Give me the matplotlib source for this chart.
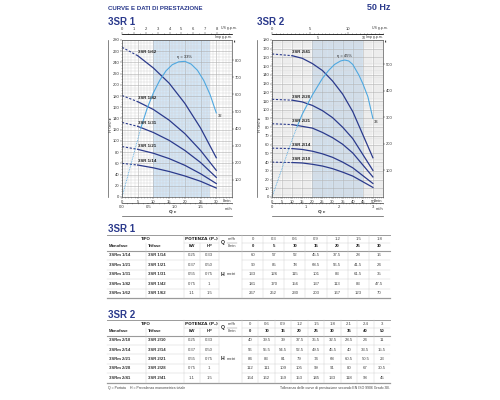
import matplotlib
matplotlib.use('Agg')
import matplotlib.pyplot as plt
import matplotlib.ticker as mt

plt.rcParams['font.family'] = ['Liberation Sans Narrow', 'Liberation Sans', 'DejaVu Sans']

NAVY = '#2b3a8c'
LBLUE = '#4fa8e0'
SHADE = '#d3e6f6'
TXT = '#333333'

# ---------------- 3SR 1 ----------------
q1_lmin = [0, 5, 10, 15, 20, 25, 30]
q1_m3h = ['0', '0.3', '0.6', '0.9', '1.2', '1.5', '1.8']
models1 = ['1/14', '1/21', '1/31', '1/42', '1/62']
kw1 = ['0.25', '0.37', '0.55', '0.75', '1.1']
hp1 = ['0.33', '0.50', '0.75', '1', '1.5']
h1 = [
    [60, 57, 52, 45.5, 37.5, 28, 16],
    [90, 85, 78, 68.5, 56.5, 41.5, 24],
    [133, 126, 115, 101, 83, 61.5, 35],
    [181, 170, 156, 137, 113, 83, 47.5],
    [267, 252, 230, 203, 167, 123, 70],
]
eff1_q = [0, 2, 4, 6, 8, 10, 12, 14, 16, 18, 20, 22, 24, 26, 28, 30]
eff1_h = [0, 41, 82, 123, 158, 186, 208, 225, 236, 241, 242, 237, 226, 208, 183, 150]
imp1_labels = [''] * 8

# ---------------- 3SR 2 ----------------
q2_lmin = [0, 10, 15, 20, 25, 30, 35, 40, 50]
q2_m3h = ['0', '0.6', '0.9', '1.2', '1.5', '1.8', '2.1', '2.4', '3']
models2 = ['2/10', '2/14', '2/21', '2/28', '2/41']
kw2 = ['0.25', '0.37', '0.55', '0.75', '1.1']
hp2 = ['0.33', '0.50', '0.75', '1', '1.5']
h2 = [
    [40, 39.5, 39, 37.5, 35.5, 32.5, 28.5, 24, 11],
    [56, 55.5, 54.5, 52.5, 49.5, 45.5, 40, 33.5, 15.5],
    [84, 83, 81, 79, 74, 68, 60.5, 50.5, 23],
    [112, 111, 109, 105, 99, 91, 80, 67, 30.5],
    [164, 162, 159, 153, 145, 133, 118, 98, 45],
]
eff2_q = [0, 5, 10, 12.5, 15, 20, 25, 28, 31, 34, 36, 38, 40, 43, 45, 47.5, 50]
eff2_h = [0, 33, 66, 81, 95, 117, 136, 145, 152, 156, 157, 156, 152, 140, 130, 115, 90]
imp2_labels = ['', '', '', '', '', '5', '', '', '', '', '10', '']

fig = plt.figure(figsize=(5, 4), dpi=100)
W, H = 500, 400


def rect(l, t, r, b):
    return [l / W, 1 - b / H, (r - l) / W, (b - t) / H]


def chart(box, q, heads, models, dash_i, xmax, xlab_max, ymax, ystep, xminor, yminor,
          band, eq, eh, eff_dot_i, eff_txt, eff_end, ft_ticks, us_ticks, imp_ticks,
          imp_labels, m3_ticks):
    ax = fig.add_axes(rect(*box))
    ax.set_xlim(0, xmax)
    ax.set_ylim(0, ymax)
    ax.set_axisbelow(True)
    ax.axvspan(band[0], band[1], color=SHADE, lw=0, zorder=0.1)
    ax.xaxis.set_major_locator(mt.FixedLocator(range(0, xlab_max + 1, 5)))
    ax.xaxis.set_minor_locator(mt.MultipleLocator(xminor))
    ax.yaxis.set_major_locator(mt.MultipleLocator(ystep))
    ax.yaxis.set_minor_locator(mt.MultipleLocator(yminor))
    ax.grid(which='minor', color='#d2d2d2', lw=0.3)
    ax.grid(which='major', color='#b0b0b0', lw=0.4)
    ax.tick_params(which='both', labelsize=3, length=1.2, width=0.3, pad=0.8, colors=TXT)
    ax.tick_params(which='minor', length=0.6)
    for s in ax.spines.values():
        s.set_linewidth(0.5)
        s.set_color('#555555')
    ax.text(xmax - 0.3, -0.012 * ymax, 'l/min', fontsize=3, color=TXT, ha='right', va='top',
            transform=ax.transData)

    # head curves
    for m, hv in zip(models, heads):
        ax.plot(q[:dash_i + 1], hv[:dash_i + 1], color=NAVY, lw=0.8, ls=(0, (2, 1.5)))
        ax.plot(q[dash_i:], hv[dash_i:], color=NAVY, lw=0.9)
        ax.annotate('3SR ' + m, (q[dash_i], hv[dash_i]), xytext=(0, 1.2),
                    textcoords='offset points', fontsize=3.2, fontweight='bold',
                    color='#222222', ha='left', va='bottom')

    # efficiency curve
    ax.plot(eq[:eff_dot_i + 1], eh[:eff_dot_i + 1], color=LBLUE, lw=0.6, ls=(0, (1, 1)))
    ax.plot(eq[eff_dot_i:], eh[eff_dot_i:], color=LBLUE, lw=0.8)
    pk = eh.index(max(eh))
    ax.annotate(eff_txt, (eq[pk], eh[pk]), xytext=(0, 1.5), textcoords='offset points',
                fontsize=3, color='#222222', ha='center', va='bottom')
    ax.annotate(eff_end, (eq[-1], eh[-1]), xytext=(1, -1), textcoords='offset points',
                fontsize=3, color='#222222', ha='left', va='top')

    # feet axis
    tw = ax.twinx()
    tw.set_ylim(0, ymax / 0.3048)
    tw.set_yticks(ft_ticks)
    tw.tick_params(labelsize=3, length=1.2, width=0.3, pad=0.8, colors=TXT)
    tw.text(1.02, 0.99, 'ft', transform=ax.transAxes, fontsize=3, color=TXT, va='center')
    for s in tw.spines.values():
        s.set_visible(False)

    # gpm scales on top
    us = ax.secondary_xaxis(1.04, functions=(lambda x: x / 3.785, lambda g: g * 3.785))
    us.set_xticks(us_ticks)
    us.xaxis.set_minor_locator(mt.MultipleLocator(0.5))
    us.tick_params(which='both', labelsize=3, length=1.2, width=0.3, pad=0.5, colors=TXT)
    us.tick_params(which='minor', length=0.7)
    us.spines['top'].set_linewidth(0.4)
    imp = ax.secondary_xaxis(1.04, functions=(lambda x: x / 4.546, lambda g: g * 4.546))
    imp.set_alignment('bottom')
    imp.set_xticks(imp_ticks)
    imp.set_xticklabels(imp_labels)
    imp.tick_params(which='both', labelsize=2.6, length=1.0, width=0.3, pad=0.4, colors=TXT)
    imp.spines['bottom'].set_linewidth(0.4)
    ax.text(0.9, 1.075, 'US g.p.m.', transform=ax.transAxes, fontsize=2.5, color=TXT,
            ha='left', va='center')
    ax.text(1.0, 1.005, 'Imp g.p.m.', transform=ax.transAxes, fontsize=2.5, color=TXT,
            ha='right', va='bottom')

    # m3/h scale below
    m3 = ax.secondary_xaxis(-0.036, functions=(lambda x: x * 0.06, lambda v: v / 0.06))
    m3.set_xticks(m3_ticks)
    m3.xaxis.set_minor_locator(mt.MultipleLocator(0.1))
    m3.tick_params(which='both', labelsize=3, length=1.0, width=0.3, pad=0.6, colors=TXT)
    m3.tick_params(which='minor', length=0.5)
    m3.spines['bottom'].set_linewidth(0.4)
    ax.text(1.0, -0.075, 'm³/h', transform=ax.transAxes, fontsize=2.8, color=TXT,
            ha='right', va='center')
    return ax


chart((122, 40, 232, 197), q1_lmin, h1, models1, 1, 35, 30, 280, 20, 1, 5,
      (10, 28), eff1_q, eff1_h, 3, 'η = 33%', '32', range(100, 801, 100),
      range(0, 9), range(0, 8), imp1_labels, [0, 0.5, 1, 1.5])

chart((272, 40, 383, 197), q2_lmin, h2, models2, 1, 55, 50, 180, 10, 1, 2,
      (20, 45), eff2_q, eff2_h, 3, 'η = 45%', '33', range(100, 501, 100),
      [0, 5, 10], range(0, 12), imp2_labels, [0, 1, 2, 3])

# -------- overlay in pixel coordinates --------
ov = fig.add_axes([0, 0, 1, 1], zorder=10)
ov.set_xlim(0, W)
ov.set_ylim(H, 0)
ov.axis('off')
ov.patch.set_visible(False)

ov.text(108, 8, 'CURVE E DATI DI PRESTAZIONE', fontsize=4.4, fontweight='bold', color=NAVY,
        va='center')
ov.text(390, 7, '50 Hz', fontsize=6.5, fontweight='bold', color=NAVY, ha='right', va='center')
ov.text(108, 22, '3SR 1', fontsize=7, fontweight='bold', color=NAVY, va='center')
ov.text(257, 22, '3SR 2', fontsize=7, fontweight='bold', color=NAVY, va='center')

for lx, qx, l, r in [(107.5, 173, 122, 232), (257, 322, 272, 383)]:
    ov.plot([lx, lx], [40, 197], color='#555555', lw=0.5)
    ov.text(lx + 3, 125, 'H (m) ▸', rotation=90, fontsize=3, color=TXT, ha='center',
            va='center', family=['Liberation Sans Narrow', 'DejaVu Sans'])
    ov.plot([l, r], [216, 216], color='#555555', lw=0.5)
    ov.text(qx, 211.5, 'Q ▸', fontsize=3.2, fontweight='bold', color=TXT, ha='center',
            va='center', family=['Liberation Sans Narrow', 'DejaVu Sans'])


def table(top, title, models, kw, hp, qm3, ql, heads, rh):
    x0, c_mono, c_tri, c_kw, c_hp, c_q, x1 = 107, 146, 184, 199.5, 219, 242, 390
    nv = len(qm3)
    cw = (x1 - c_q) / nv
    r1, r2, hb = top + 4.2, top + 11.2, top + 15.5
    bottom = hb + rh * len(models)
    fs = 3.1
    ov.text(108, top - 5.5, title, fontsize=7, fontweight='bold', color=NAVY, va='center')
    ov.plot([x0, x1], [top, top], color='#9a9a9a', lw=0.7)
    ov.plot([x0, x1], [hb, hb], color='#9a9a9a', lw=0.8)
    ov.plot([x0, x1], [bottom, bottom], color='#9a9a9a', lw=0.9)
    ov.plot([c_tri, c_hp], [top + 7.8, top + 7.8], color='#cccccc', lw=0.3)
    ov.plot([c_q, x1], [top + 7.8, top + 7.8], color='#cccccc', lw=0.3)
    for i in range(1, len(models)):
        y = hb + rh * i
        ov.plot([x0, c_hp], [y, y], color='#cccccc', lw=0.3)
        ov.plot([c_q, x1], [y, y], color='#cccccc', lw=0.3)
    ov.plot([c_mono, c_mono], [top + 7.8, bottom], color='#cccccc', lw=0.3)
    ov.plot([c_kw, c_kw], [top + 7.8, bottom], color='#cccccc', lw=0.3)
    for x in [c_tri, c_hp, c_q] + [c_q + cw * k for k in range(1, nv)]:
        ov.plot([x, x], [top, bottom], color='#cccccc', lw=0.3)
    # header
    ov.text((x0 + c_tri) / 2, r1, 'TIPO', fontsize=fs, fontweight='bold', color='#222222',
            ha='center', va='center')
    ov.text((c_tri + c_hp) / 2, r1, 'POTENZA (P₂)', fontsize=fs, fontweight='bold',
            color='#222222', ha='center', va='center',
            family=['Liberation Sans Narrow', 'DejaVu Sans'])
    ov.text(x0 + 2, r2, 'Monofase', fontsize=fs, fontweight='bold', color='#222222', va='center')
    ov.text(c_mono + 2, r2, 'Trifase', fontsize=fs, fontweight='bold', color='#222222',
            va='center')
    ov.text((c_tri + c_kw) / 2, r2, 'kW', fontsize=fs, fontweight='bold', color='#222222',
            ha='center', va='center')
    ov.text((c_kw + c_hp) / 2, r2, 'HP', fontsize=fs, fontweight='bold', color='#222222',
            ha='center', va='center')
    ov.text(c_hp + 2, (r1 + r2) / 2, 'Q', fontsize=3.6, fontweight='bold', color='#222222',
            va='center')
    ov.text(c_hp + 13, r1, 'm³/h', fontsize=2.9, color='#444444', ha='center', va='center')
    ov.plot([c_hp + 8, c_hp + 18], [top + 7.8, top + 7.8], color='#777777', lw=0.3)
    ov.text(c_hp + 13, r2, 'l/min', fontsize=2.9, color='#444444', ha='center', va='center')
    for k in range(nv):
        cx = c_q + cw * (k + 0.5)
        ov.text(cx, r1, qm3[k], fontsize=fs, color='#444444', ha='center', va='center')
        ov.text(cx, r2, str(ql[k]), fontsize=fs, fontweight='bold', color='#222222',
                ha='center', va='center')
    # rows
    for i, m in enumerate(models):
        y = hb + rh * (i + 0.5)
        ov.text(x0 + 2, y, '3SRm ' + m, fontsize=fs, fontweight='bold', color='#333333',
                va='center')
        ov.text(c_mono + 2, y, '3SR ' + m, fontsize=fs, fontweight='bold', color='#333333',
                va='center')
        ov.text((c_tri + c_kw) / 2, y, kw[i], fontsize=fs, color='#444444', ha='center',
                va='center')
        ov.text((c_kw + c_hp) / 2, y, hp[i], fontsize=fs, color='#444444', ha='center',
                va='center')
        for k in range(nv):
            v = heads[i][k]
            s = str(int(v)) if float(v).is_integer() else str(v)
            ov.text(c_q + cw * (k + 0.5), y, s, fontsize=fs, color='#444444', ha='center',
                    va='center')
    ym = (hb + bottom) / 2
    ov.text(c_hp + 2, ym, 'H', fontsize=3.6, fontweight='bold', color='#222222', va='center')
    ov.text(c_hp + 7.5, ym, 'metri', fontsize=fs, color='#444444', va='center')


table(235, '3SR 1', models1, kw1, hp1, q1_m3h, q1_lmin, h1, 9.5)
table(320, '3SR 2', models2, kw2, hp2, q2_m3h, q2_lmin, h2, 9.4)

ov.text(108, 388, 'Q = Portata    H = Prevalenza manometrica totale', fontsize=2.5,
        color='#444444', va='center')
ov.text(390, 388, 'Tolleranza delle curve di prestazione secondo EN ISO 9906 Grado 3B.',
        fontsize=2.5, color='#444444', ha='right', va='center')

fig.savefig('out.png', dpi=100, facecolor='white')
